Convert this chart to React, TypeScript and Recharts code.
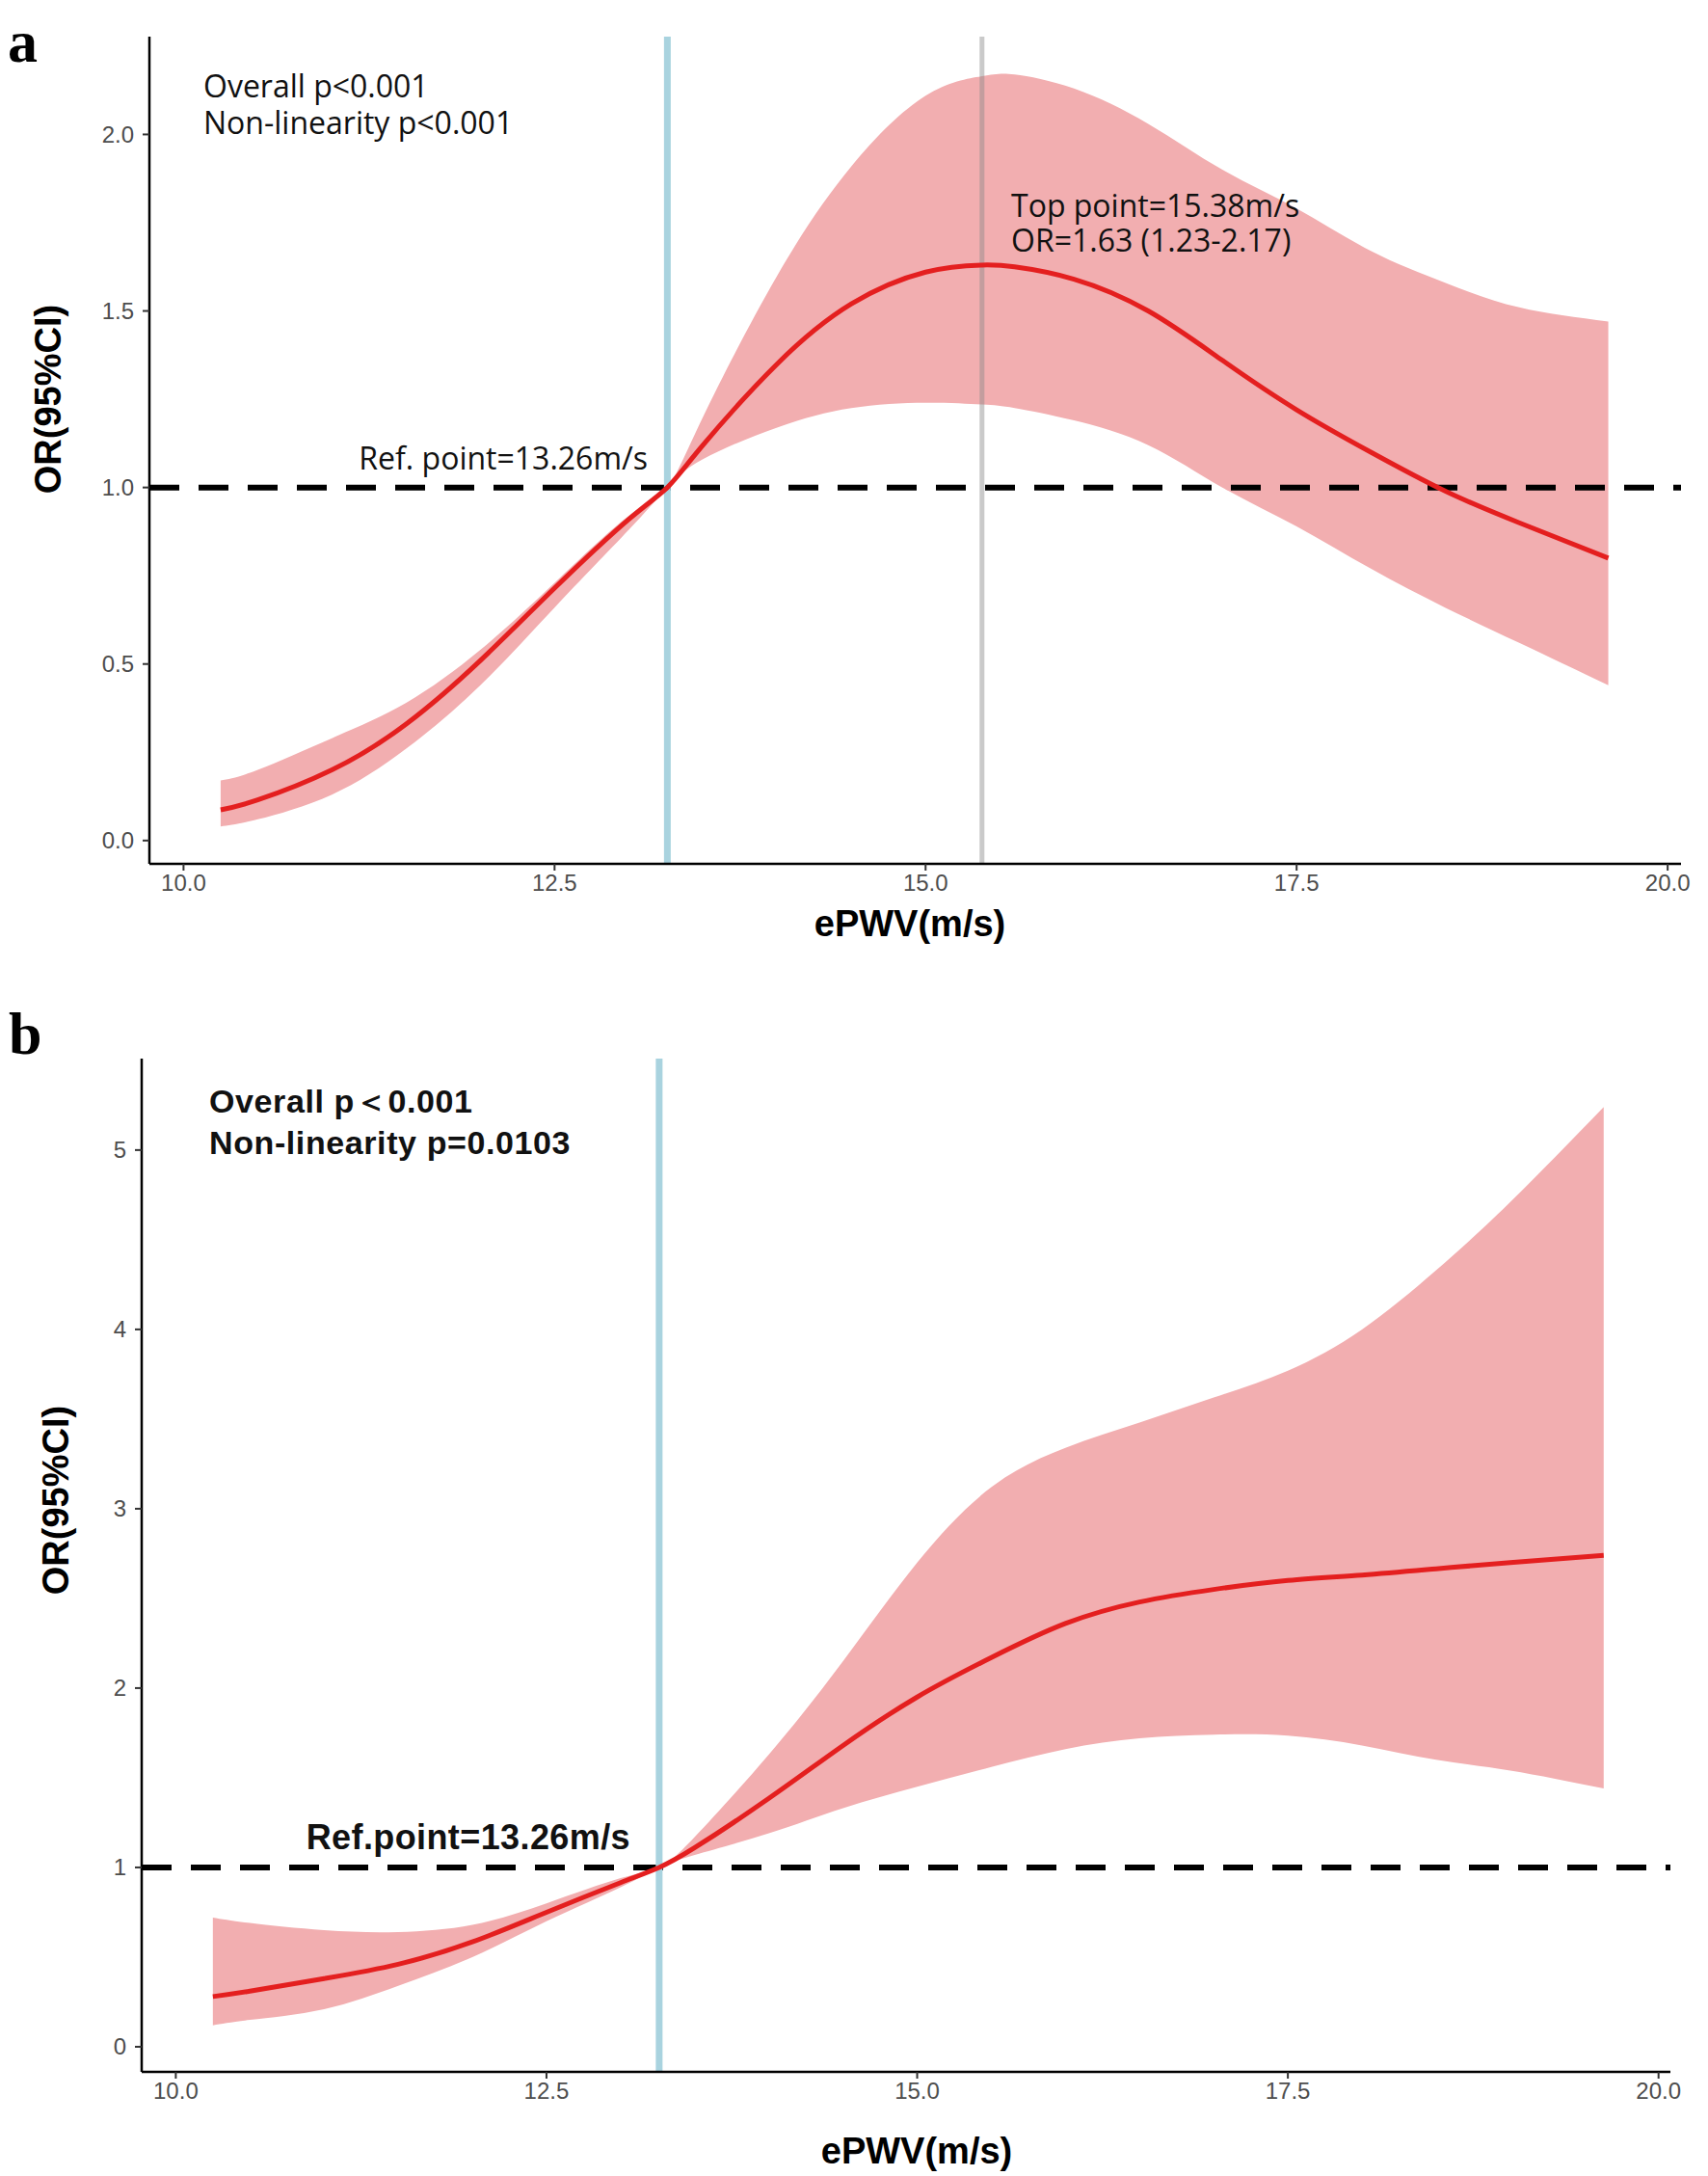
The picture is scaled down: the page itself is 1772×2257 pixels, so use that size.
import React from 'react';
import {
  ComposedChart,
  Area,
  Line,
  XAxis,
  YAxis,
  ReferenceLine,
} from 'recharts';

// panel a: ePWV vs OR, restricted cubic spline
const aX = [10.25, 10.5, 11, 11.5, 12, 12.5, 13, 13.26, 13.5, 14, 14.5, 15, 15.38, 15.6, 16, 16.5, 17, 17.5, 18, 18.5, 19, 19.6];
const aFit = [0.087, 0.115, 0.2, 0.33, 0.51, 0.715, 0.91, 1.0, 1.12, 1.35, 1.52, 1.61, 1.63, 1.625, 1.59, 1.5, 1.36, 1.22, 1.1, 0.99, 0.9, 0.8];
const aLow = [0.04, 0.06, 0.13, 0.26, 0.44, 0.66, 0.88, 1.0, 1.08, 1.17, 1.225, 1.24, 1.235, 1.225, 1.19, 1.12, 1.0, 0.89, 0.77, 0.66, 0.56, 0.44];
const aHigh = [0.17, 0.2, 0.29, 0.39, 0.54, 0.73, 0.92, 1.0, 1.2, 1.6, 1.91, 2.11, 2.165, 2.17, 2.13, 2.03, 1.9, 1.79, 1.67, 1.58, 1.51, 1.47];

// panel b
const bX = [10.25, 10.5, 11, 11.5, 12, 12.5, 13, 13.26, 13.5, 14, 14.5, 15, 15.5, 16, 16.5, 17, 17.5, 18, 18.5, 19, 19.63];
const bFit = [0.28, 0.31, 0.38, 0.46, 0.585, 0.75, 0.915, 1.0, 1.11, 1.385, 1.68, 1.95, 2.17, 2.36, 2.48, 2.55, 2.6, 2.63, 2.665, 2.7, 2.74];
const bLow = [0.12, 0.15, 0.21, 0.34, 0.5, 0.7, 0.89, 1.0, 1.07, 1.19, 1.33, 1.45, 1.56, 1.66, 1.72, 1.74, 1.735, 1.68, 1.6, 1.54, 1.44];
const bHigh = [0.72, 0.69, 0.65, 0.64, 0.68, 0.8, 0.94, 1.0, 1.17, 1.63, 2.15, 2.7, 3.12, 3.34, 3.48, 3.62, 3.77, 4.0, 4.33, 4.71, 5.24];

const xTicks = [10, 12.5, 15, 17.5, 20];
const aYTicks = [0, 0.5, 1, 1.5, 2];
const bYTicks = [0, 1, 2, 3, 4, 5];

const refPoint = 13.26;
const topPoint = 15.38;

const toRows = (xs: number[], fit: number[], lo: number[], hi: number[]) =>
  xs.map((x, i) => ({ x, fit: fit[i], band: [lo[i], hi[i]] }));

const aData = toRows(aX, aFit, aLow, aHigh);
const bData = toRows(bX, bFit, bLow, bHigh);

const tickStyle = { fill: '#4d4d4d', fontSize: 24, fontFamily: 'Liberation Sans' };
const axisStyle = { stroke: '#000', strokeWidth: 2.5 };
const tickLineStyle = { stroke: '#333', strokeWidth: 2 };

const BAND = '#f2aeb0';
const RED = '#e41f1f';
const BLUE = '#a9d3df';

const App: React.FC = () => {
  return (
    <div style={{ position: 'absolute', left: 0, top: 0, width: 1772, height: 2257, background: '#fff' }}>
      <div style={{ position: 'absolute', left: 0, top: 0 }}>
        <ComposedChart width={1772} height={1040} data={aData} margin={{ top: 38, right: 28, left: 0, bottom: 0 }}>
          <XAxis
            dataKey="x"
            type="number"
            domain={[9.77, 20.09]}
            ticks={xTicks}
            allowDataOverflow
            tickFormatter={(v: number) => v.toFixed(1)}
            height={144}
            tick={tickStyle}
            axisLine={axisStyle}
            tickLine={tickLineStyle}
            tickSize={7}
            tickMargin={4}
          />
          <YAxis
            type="number"
            domain={[-0.066, 2.277]}
            ticks={aYTicks}
            allowDataOverflow
            tickFormatter={(v: number) => v.toFixed(1)}
            width={155}
            tick={tickStyle}
            axisLine={axisStyle}
            tickLine={tickLineStyle}
            tickSize={7}
            tickMargin={9}
          />
          <Area dataKey="band" type="natural" stroke="none" fill={BAND} fillOpacity={1} isAnimationActive={false} />
          <ReferenceLine y={1} stroke="#000" strokeWidth={6} strokeDasharray="31 20" />
          <ReferenceLine x={refPoint} stroke={BLUE} strokeWidth={7} />
          <ReferenceLine x={topPoint} stroke="#8a8a8a" strokeOpacity={0.45} strokeWidth={5} />
          <Line dataKey="fit" type="natural" stroke={RED} strokeWidth={5} dot={false} isAnimationActive={false} />
        </ComposedChart>
      </div>
      <div style={{ position: 'absolute', left: 0, top: 1040 }}>
        <ComposedChart width={1772} height={1217} data={bData} margin={{ top: 58, right: 39, left: 0, bottom: 0 }}>
          <XAxis
            dataKey="x"
            type="number"
            domain={[9.77, 20.08]}
            ticks={xTicks}
            allowDataOverflow
            tickFormatter={(v: number) => v.toFixed(1)}
            height={108}
            tick={tickStyle}
            axisLine={axisStyle}
            tickLine={tickLineStyle}
            tickSize={7}
            tickMargin={4}
          />
          <YAxis
            type="number"
            domain={[-0.14, 5.51]}
            ticks={bYTicks}
            allowDataOverflow
            width={147}
            tick={tickStyle}
            axisLine={axisStyle}
            tickLine={tickLineStyle}
            tickSize={7}
            tickMargin={9}
          />
          <Area dataKey="band" type="natural" stroke="none" fill={BAND} fillOpacity={1} isAnimationActive={false} />
          <ReferenceLine y={1} stroke="#000" strokeWidth={6} strokeDasharray="31 20" />
          <ReferenceLine x={refPoint} stroke={BLUE} strokeWidth={7} />
          <Line dataKey="fit" type="natural" stroke={RED} strokeWidth={5} dot={false} isAnimationActive={false} />
        </ComposedChart>
      </div>

      {/* labels and annotations */}
      <svg width={1772} height={2257} style={{ position: 'absolute', left: 0, top: 0, pointerEvents: 'none' }}>
        <g fontFamily="Liberation Serif" fontWeight="bold" fontSize={62} fill="#000">
          <text x={8} y={64}>a</text>
          <text x={9} y={1093}>b</text>
        </g>

        <g fontFamily="Open Sans" fontSize={32} fill="#111">
          <text x={211} y={101}>Overall p&lt;0.001</text>
          <text x={211} y={139}>Non-linearity p&lt;0.001</text>
          <text x={672} y={487} textAnchor="end">Ref. point=13.26m/s</text>
          <text x={1049} y={225}>Top point=15.38m/s</text>
          <text x={1049} y={261}>OR=1.63 (1.23-2.17)</text>
        </g>

        <g fontFamily="Liberation Sans" fontWeight="bold" fill="#111">
          <text x={217} y={1154} fontSize={34} letterSpacing={0.6}>Overall p＜0.001</text>
          <text x={217} y={1197} fontSize={34} letterSpacing={0.6}>Non-linearity p=0.0103</text>
          <text x={654} y={1918} fontSize={36} letterSpacing={0.4} textAnchor="end">Ref.point=13.26m/s</text>
        </g>

        <g fontFamily="Liberation Sans" fontWeight="bold" fontSize={38} fill="#000" textAnchor="middle">
          <text x={944} y={971}>ePWV(m/s)</text>
          <text transform="translate(63,414) rotate(-90)">OR(95%CI)</text>
          <text x={951} y={2244}>ePWV(m/s)</text>
          <text transform="translate(71,1556) rotate(-90)">OR(95%CI)</text>
        </g>
      </svg>
    </div>
  );
};

export default App;
